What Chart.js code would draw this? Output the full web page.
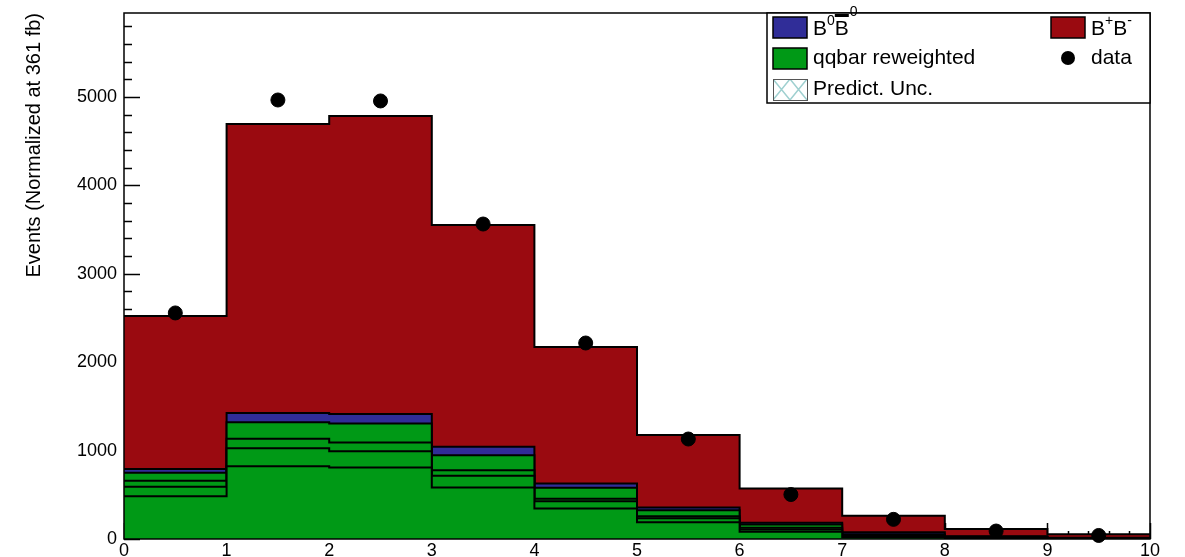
<!DOCTYPE html>
<html>
<head>
<meta charset="utf-8">
<script src="https://cdn.jsdelivr.net/npm/chart.js@4/dist/chart.umd.min.js"></script>
<style>
  html, body { margin: 0; padding: 0; background: #fff; }
</style>
</head>
<body>
<canvas id="myChart" width="1185" height="557"></canvas>
<script>
// bin edges of the histogram (x)
const binEdges = [0, 1, 2, 3, 4, 5, 6, 7, 8, 9, 10];

// stacked components, bottom to top (events per bin)
const qqbar1 = [483, 824, 809, 583, 345, 190, 81, 20, 10, 4];
const qqbar2 = [109, 203, 184, 132, 83, 45, 26, 10, 4, 2];
const qqbar3 = [68, 106, 99, 63, 27, 23, 20, 10, 4, 2];
const qqbar4 = [90, 188, 215, 170, 124, 68, 37, 15, 7, 3];
const b0b0bar = [42, 104, 108, 95, 49, 30, 19, 20, 7, 3];
const bpbm = [1731, 3270, 3370, 2509, 1544, 820, 389, 189, 80, 41];

// data points at bin centres
const dataX = [0.5, 1.5, 2.5, 3.5, 4.5, 5.5, 6.5, 7.5, 8.5, 9.5];
const dataY = [2557, 4966, 4955, 3563, 2217, 1131, 503, 222, 90, 40];

const yTicks = [0, 1000, 2000, 3000, 4000, 5000];
const xTicks = [0, 1, 2, 3, 4, 5, 6, 7, 8, 9, 10];
const yMax = 5950;
const yTitle = 'Events (Normalized at 361 fb)';

const colGreen = '#009916';
const colBlue = '#302d98';
const colRed = '#9a0a10';
const FONT = '"Liberation Sans", Arial, Helvetica, sans-serif';

// histogram bins -> points for a stepped line
function steps(values) {
  const pts = values.map((v, i) => ({x: binEdges[i], y: v}));
  pts.push({x: binEdges[values.length], y: values[values.length - 1]});
  return pts;
}

function histDataset(label, values, color, fill) {
  return {
    label: label,
    data: steps(values),
    stepped: true,
    fill: fill,
    backgroundColor: color,
    borderColor: '#000',
    borderWidth: 2,
    pointRadius: 0,
    borderJoinStyle: 'miter'
  };
}

/**
 * ROOT風の目盛り・枠・凡例
 */
const rootStyle = {
  id: 'rootStyle',
  beforeDatasetsDraw(chart) {
    const {ctx, chartArea: a, scales: {x, y}} = chart;
    ctx.save();
    ctx.strokeStyle = '#000';
    ctx.lineWidth = 1.5;
    ctx.beginPath();
    for (let v = 0; v <= yMax; v += 200) {
      const py = Math.round(y.getPixelForValue(v)) + 0.5;
      const len = v % 1000 === 0 ? 16 : 8;
      ctx.moveTo(a.left, py);
      ctx.lineTo(a.left + len, py);
    }
    for (let i = 0; i <= 50; i++) {
      const px = Math.round(x.getPixelForValue(i / 5)) + 0.5;
      const len = i % 5 === 0 ? 16 : 8;
      ctx.moveTo(px, a.bottom);
      ctx.lineTo(px, a.bottom - len);
    }
    ctx.stroke();
    ctx.restore();
  },
  afterDatasetsDraw(chart) {
    const {ctx, chartArea: a} = chart;
    ctx.save();
    ctx.strokeStyle = '#000';
    ctx.lineWidth = 1.5;
    ctx.strokeRect(a.left, a.top, a.right - a.left, a.bottom - a.top);
    ctx.restore();
  },
  afterDraw(chart) {
    const {ctx, chartArea: a} = chart;
    const L = 767, T = a.top, R = a.right, B = 103;
    ctx.save();
    ctx.fillStyle = '#fff';
    ctx.fillRect(L, T, R - L, B - T);
    ctx.strokeStyle = '#000';
    ctx.lineWidth = 1.5;
    ctx.strokeRect(L, T, R - L, B - T);

    function box(x0, y0, color) {
      ctx.fillStyle = color;
      ctx.fillRect(x0, y0, 34, 21);
      ctx.strokeStyle = '#000';
      ctx.lineWidth = 1.5;
      ctx.strokeRect(x0, y0, 34, 21);
    }
    box(773, 17, colBlue);
    box(1051, 17, colRed);
    box(773, 48, colGreen);

    // hatched swatch
    ctx.save();
    ctx.beginPath();
    ctx.rect(773, 79, 34, 21);
    ctx.clip();
    ctx.strokeStyle = '#9fd0d0';
    ctx.lineWidth = 1.5;
    ctx.beginPath();
    for (let k = 0; k < 2; k++) {
      const x0 = 773 + k * 17;
      ctx.moveTo(x0, 79); ctx.lineTo(x0 + 17, 100);
      ctx.moveTo(x0 + 17, 79); ctx.lineTo(x0, 100);
    }
    ctx.stroke();
    ctx.restore();
    ctx.strokeStyle = '#555';
    ctx.lineWidth = 1;
    ctx.strokeRect(773.5, 79.5, 34, 21);

    // data marker
    ctx.fillStyle = '#000';
    ctx.beginPath();
    ctx.arc(1068, 58, 7, 0, Math.PI * 2);
    ctx.fill();

    ctx.fillStyle = '#000';
    ctx.textBaseline = 'alphabetic';
    ctx.textAlign = 'left';
    const big = '21px ' + FONT, small = '14px ' + FONT;
    ctx.font = big;
    ctx.fillText('qqbar reweighted', 813, 64);
    ctx.fillText('Predict. Unc.', 813, 95);
    ctx.fillText('data', 1091, 64);

    // B0 B0bar
    let px = 813;
    ctx.font = big;
    ctx.fillText('B', px, 35); px += ctx.measureText('B').width;
    ctx.font = small;
    ctx.fillText('0', px, 25); px += ctx.measureText('0').width;
    ctx.font = big;
    const wB = ctx.measureText('B').width;
    ctx.fillText('B', px, 35);
    ctx.fillRect(px, 14, wB, 3);
    px += wB + 1;
    ctx.font = small;
    ctx.fillText('0', px, 16);

    // B+ B-
    px = 1091;
    ctx.font = big;
    ctx.fillText('B', px, 35); px += ctx.measureText('B').width;
    ctx.font = small;
    ctx.fillText('+', px, 25); px += ctx.measureText('+').width;
    ctx.font = big;
    ctx.fillText('B', px, 35); px += ctx.measureText('B').width;
    ctx.font = small;
    ctx.fillText('-', px, 25);
    ctx.restore();
  }
};

new Chart(document.getElementById('myChart').getContext('2d'), {
  type: 'line',
  data: {
    datasets: [
      histDataset('qqbar reweighted', qqbar1, colGreen, 'origin'),
      histDataset('qqbar reweighted', qqbar2, colGreen, '-1'),
      histDataset('qqbar reweighted', qqbar3, colGreen, '-1'),
      histDataset('qqbar reweighted', qqbar4, colGreen, '-1'),
      histDataset('B0B0bar', b0b0bar, colBlue, '-1'),
      histDataset('B+B-', bpbm, colRed, '-1'),
      {
        label: 'data',
        data: dataX.map((v, i) => ({x: v, y: dataY[i]})),
        stack: 'data',
        order: -1,
        showLine: false,
        pointRadius: 7,
        pointHoverRadius: 7,
        pointBackgroundColor: '#000',
        pointBorderColor: '#000',
        clip: false
      }
    ]
  },
  plugins: [rootStyle],
  options: {
    responsive: false,
    animation: false,
    events: [],
    layout: { padding: { left: 0, right: 35, top: 13, bottom: 0 } },
    plugins: {
      legend: { display: false },
      tooltip: { enabled: false }
    },
    scales: {
      x: {
        type: 'linear',
        min: 0,
        max: 10,
        grid: { display: false, drawTicks: false },
        border: { display: false },
        afterBuildTicks: s => { s.ticks = xTicks.map(v => ({value: v})); },
        ticks: {
          color: '#000',
          font: { family: FONT, size: 18 },
          padding: 1,
          maxRotation: 0,
          autoSkip: false
        },
        afterFit: s => { s.height = 18; s.paddingLeft = 0; s.paddingRight = 0; }
      },
      y: {
        stacked: true,
        min: 0,
        max: yMax,
        grid: { display: false, drawTicks: false },
        border: { display: false },
        afterBuildTicks: s => { s.ticks = yTicks.map(v => ({value: v})); },
        ticks: {
          color: '#000',
          font: { family: FONT, size: 18 },
          padding: 7,
          callback: v => String(v)
        },
        title: {
          display: true,
          text: yTitle,
          align: 'end',
          color: '#000',
          font: { family: FONT, size: 20 },
          padding: { top: 22, bottom: 0 }
        },
        afterFit: s => { s.width = 124; s.paddingTop = 0; s.paddingBottom = 0; }
      }
    }
  }
});
</script>
</body>
</html>
